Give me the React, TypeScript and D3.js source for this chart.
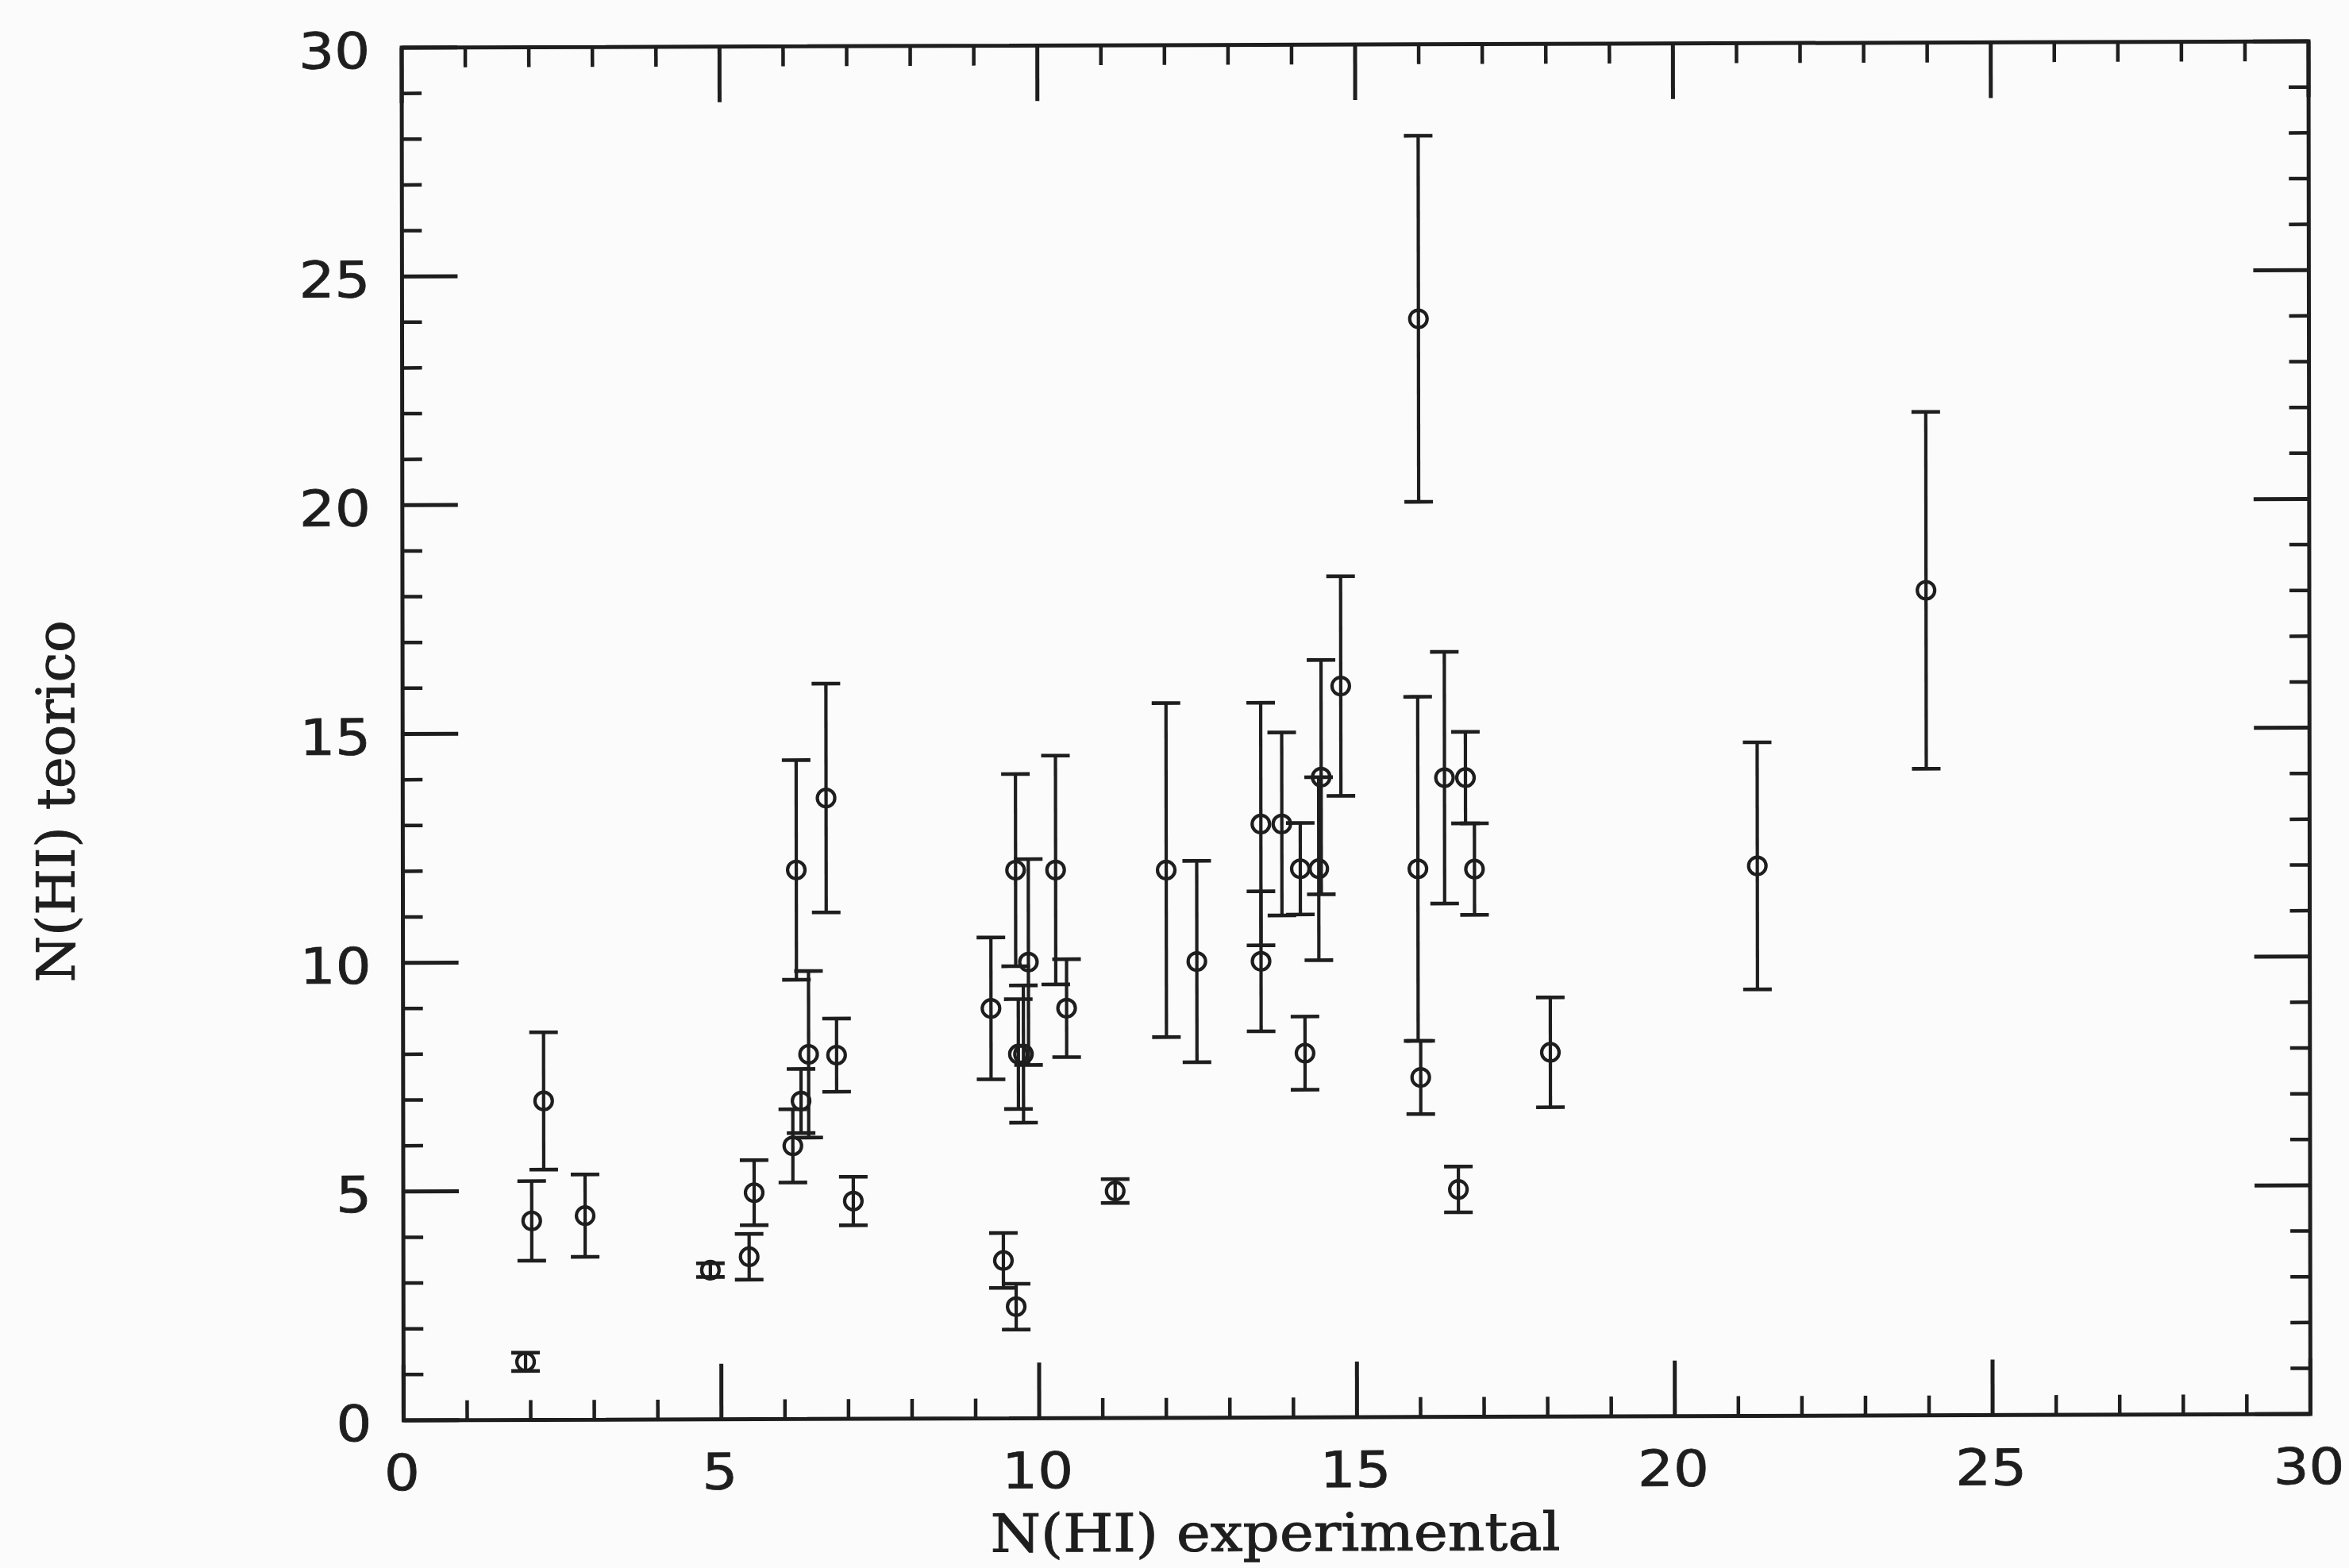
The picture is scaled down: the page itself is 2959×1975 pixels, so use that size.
import React from 'react';
import * as d3 from 'd3';

// N(HI) measured vs. N(HI) predicted, with 1-sigma uncertainties on the prediction
const nHIExperimental = [
  1.92, 2.02, 2.21, 2.86, 4.83, 5.44, 5.52, 6.13, 6.19, 6.26, 6.38, 6.66, 6.82, 7.08,
  9.25, 9.44, 9.64, 9.64, 9.68, 9.76, 9.84, 10.27, 10.44, 11.2, 12.01, 12.49,
  13.5, 13.5, 13.83, 14.12, 14.19, 14.41, 14.45, 14.76, 15.97, 15.99, 16.01, 16.39,
  16.6, 16.72, 16.86, 18.05, 21.31, 23.97,
];
const nHITeorico = [
  1.27, 4.35, 6.97, 4.46, 3.26, 3.55, 4.95, 5.97, 12.0, 6.95, 7.97, 13.57, 7.95, 4.76,
  8.96, 3.45, 2.44, 11.98, 7.96, 7.96, 9.97, 11.98, 8.96, 4.96, 11.97, 9.97,
  12.97, 9.97, 12.97, 11.99, 7.96, 11.99, 13.99, 15.98, 11.98, 24.0, 7.42, 13.97,
  4.97, 13.97, 11.97, 7.96, 12.02, 18.03,
];
const nHIError = [
  0.2, 0.87, 1.5, 0.9, 0.15, 0.5, 0.71, 0.8, 2.4, 0.7, 1.82, 2.5, 0.8, 0.53,
  1.55, 0.6, 0.5, 2.1, 1.2, 1.5, 2.25, 2.5, 1.07, 0.26, 3.65, 2.2,
  2.65, 1.53, 2.0, 1.0, 0.8, 2.0, 2.56, 2.4, 3.76, 4.0, 0.8, 2.75,
  0.5, 1.0, 1.0, 1.2, 2.7, 3.9,
];

const majorTicks = [0, 5, 10, 15, 20, 25, 30];
const xTitle = 'N(HI) experimental';
const yTitle = 'N(HI) teorico';

const ink = '#1e1e1e';

export default function App() {
  const W = 2959;
  const H = 1975;
  const left = 506;
  const top = 60;
  const pw = 2402;
  const ph = 1729;

  const x = d3.scaleLinear().domain([0, 30]).range([0, pw]);
  const y = d3.scaleLinear().domain([0, 30]).range([ph, 0]);

  const minorTicks = d3.range(0, 31).filter((v) => v % 5 !== 0);
  const majorLen = 70;
  const minorLen = 25;
  const capHalf = 18;
  const r = 11;

  const points = nHIExperimental.map((xv, i) => ({
    x: xv,
    y: nHITeorico[i],
    e: nHIError[i],
  }));

  const tickFont = '"DejaVu Sans", "Liberation Sans", sans-serif';
  const titleFont = '"DejaVu Serif", "Liberation Serif", serif';

  return (
    <svg
      width={W}
      height={H}
      viewBox={`0 0 ${W} ${H}`}
      style={{ position: 'absolute', left: 0, top: 0, background: '#fbfbfb' }}
    >
      <rect x={0} y={0} width={W} height={H} fill="#fbfbfb" />
      <g transform={`translate(${left},${top}) matrix(1,-0.0033,0.0014,1,0,0)`}>
        {/* frame */}
        <rect x={0} y={0} width={pw} height={ph} fill="none" stroke={ink} strokeWidth={5} />

        {/* minor ticks on all four sides */}
        {minorTicks.map((v) => (
          <g key={`mn${v}`} stroke={ink} strokeWidth={4.5}>
            <line x1={x(v)} x2={x(v)} y1={ph} y2={ph - minorLen} />
            <line x1={x(v)} x2={x(v)} y1={0} y2={minorLen} />
            <line x1={0} x2={minorLen} y1={y(v)} y2={y(v)} />
            <line x1={pw} x2={pw - minorLen} y1={y(v)} y2={y(v)} />
          </g>
        ))}
        {/* major ticks on all four sides */}
        {majorTicks.map((v) => (
          <g key={`mj${v}`} stroke={ink} strokeWidth={5}>
            <line x1={x(v)} x2={x(v)} y1={ph} y2={ph - majorLen} />
            <line x1={x(v)} x2={x(v)} y1={0} y2={majorLen} />
            <line x1={0} x2={majorLen} y1={y(v)} y2={y(v)} />
            <line x1={pw} x2={pw - majorLen} y1={y(v)} y2={y(v)} />
          </g>
        ))}

        {/* x tick labels */}
        {majorTicks.map((v) => (
          <g key={`xl${v}`} transform={`translate(${x(v) - 2},${ph + 88}) scale(1.12,1)`}>
            <text
              textAnchor="middle"
              fontFamily={tickFont}
              fontSize={63}
              fill={ink}
              stroke={ink}
              strokeWidth={0.8}
            >
              {v}
            </text>
          </g>
        ))}
        {/* y tick labels */}
        {majorTicks.map((v) => (
          <g key={`yl${v}`} transform={`translate(${-40},${y(v) + 26}) scale(1.12,1)`}>
            <text
              textAnchor="end"
              fontFamily={tickFont}
              fontSize={63}
              fill={ink}
              stroke={ink}
              strokeWidth={0.8}
            >
              {v}
            </text>
          </g>
        ))}

        {/* axis titles */}
        <text
          x={1098}
          y={1897}
          textAnchor="middle"
          fontFamily={titleFont}
          fontSize={66}
          fill={ink}
          stroke={ink}
          strokeWidth={1}
          textLength={718}
          lengthAdjust="spacingAndGlyphs"
        >
          {xTitle}
        </text>
        <text
          transform={`translate(${-414},${948}) rotate(-90)`}
          textAnchor="middle"
          fontFamily={titleFont}
          fontSize={66}
          fill={ink}
          stroke={ink}
          strokeWidth={1}
          textLength={456}
          lengthAdjust="spacingAndGlyphs"
        >
          {yTitle}
        </text>

        {/* error bars and markers */}
        {points.map((p, i) => {
          const cx = x(p.x);
          const cy = y(p.y);
          const yt = y(p.y + p.e);
          const yb = y(p.y - p.e);
          return (
            <g key={`pt${i}`} stroke={ink} fill="none">
              <line x1={cx} x2={cx} y1={yt} y2={yb} strokeWidth={4.2} />
              <line x1={cx - capHalf} x2={cx + capHalf} y1={yt} y2={yt} strokeWidth={4.6} />
              <line x1={cx - capHalf} x2={cx + capHalf} y1={yb} y2={yb} strokeWidth={4.6} />
              <circle cx={cx} cy={cy} r={r} strokeWidth={4.2} />
            </g>
          );
        })}
      </g>
    </svg>
  );
}
